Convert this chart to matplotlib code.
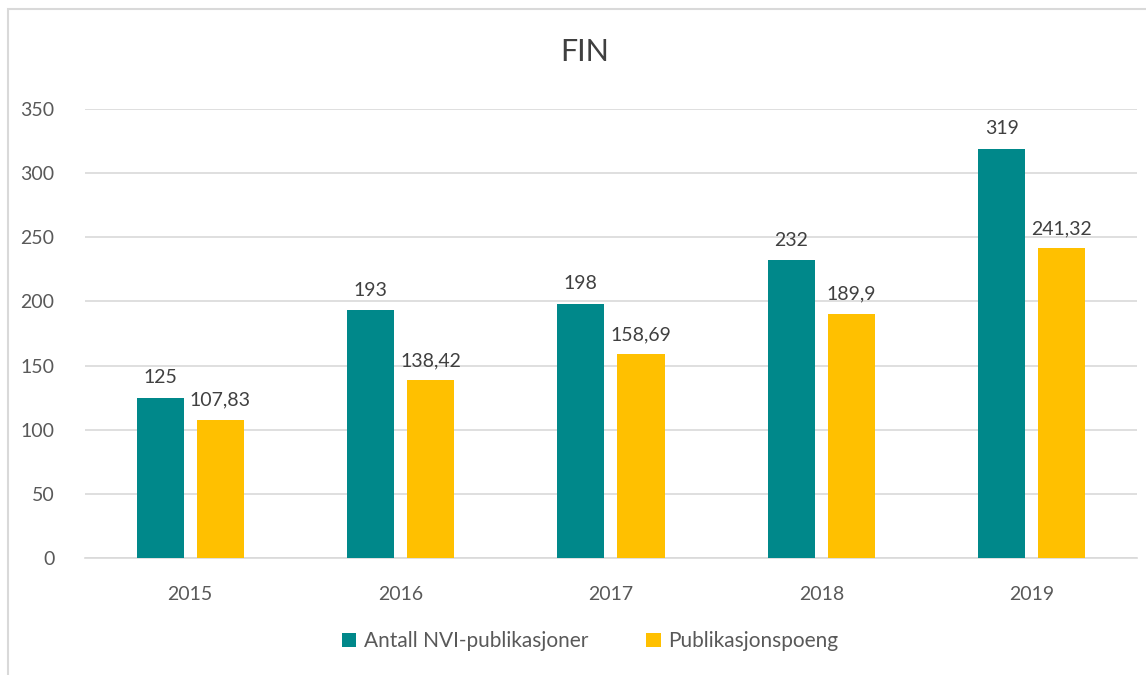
import numpy as np
import matplotlib.pyplot as plt
from matplotlib.patches import Rectangle

plt.rcParams['font.family'] = ['Lato', 'DejaVu Sans']

years = ['2015', '2016', '2017', '2018', '2019']
antall = [125, 193, 198, 232, 319]
poeng = [107.83, 138.42, 158.69, 189.9, 241.32]
poeng_labels = ['107,83', '138,42', '158,69', '189,9', '241,32']

teal = '#00888A'
gold = '#FFC000'
txt = '#595959'

fig = plt.figure(figsize=(11.46, 6.75), dpi=100)
ax = fig.add_axes([0.0742, 0.1733, 0.9178, 0.6652])

x = np.arange(len(years))
w = 0.224
b1 = ax.bar(x - 0.143, antall, w, color=teal, label='Antall NVI-publikasjoner', zorder=3)
b2 = ax.bar(x + 0.143, poeng, w, color=gold, label='Publikasjonspoeng', zorder=3)

for rect, v in zip(b1, antall):
    ax.text(rect.get_x() + rect.get_width() / 2, v + 9, str(v), ha='center', va='bottom',
            fontsize=14, color='#404040')
for rect, s, v in zip(b2, poeng_labels, poeng):
    ax.text(rect.get_x() + rect.get_width() / 2, v + 9, s, ha='center', va='bottom',
            fontsize=14, color='#404040')

ax.set_xlim(-0.5, len(years) - 0.5)
ax.set_ylim(0, 350)
ax.set_yticks(range(0, 351, 50))
ax.set_xticks(x)
ax.set_xticklabels(years)
ax.yaxis.grid(True, color='#D9D9D9', linewidth=1.2, zorder=0)
ax.tick_params(axis='both', length=0, labelsize=14, colors=txt)
ax.tick_params(axis='x', pad=20)
ax.tick_params(axis='y', pad=22)
for s in ['top', 'right', 'left']:
    ax.spines[s].set_visible(False)
ax.spines['bottom'].set_color('#D9D9D9')
ax.spines['bottom'].set_linewidth(1.2)

fig.text(0.51, 0.923, 'FIN', ha='center', va='center', fontsize=22, color='#404040')

fig.legend(loc='center', bbox_to_anchor=(0.515, 0.05), ncol=2, frameon=False,
           fontsize=15, handlelength=0.7, handleheight=0.7, handletextpad=0.35,
           columnspacing=2.8, labelcolor=txt)

fig.patches.append(Rectangle((0.007, -0.01), 1.0, 0.997, transform=fig.transFigure,
                             fill=False, edgecolor='#D9D9D9', linewidth=1.5))

fig.savefig('out.png', dpi=100)
